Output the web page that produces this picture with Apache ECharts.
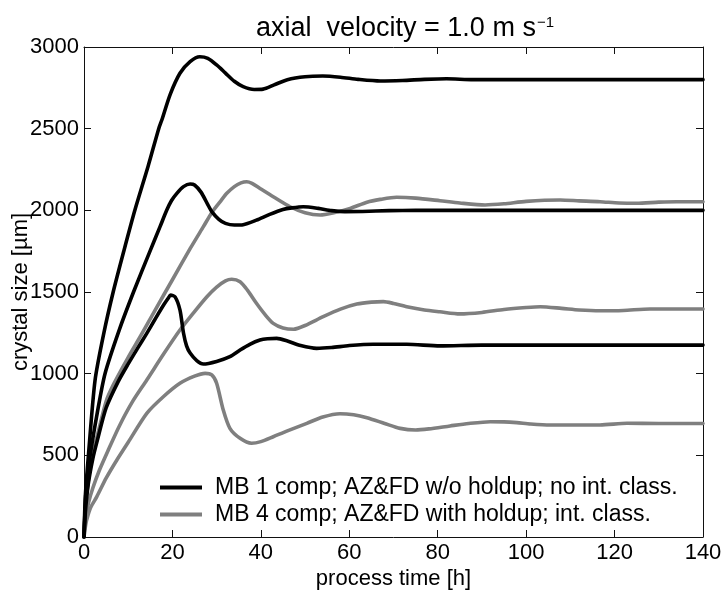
<!DOCTYPE html>
<html>
<head>
<meta charset="utf-8">
<script src="https://cdn.jsdelivr.net/npm/echarts@6/dist/echarts.min.js"></script>
<style>
  html, body { margin: 0; padding: 0; background: #fff; }
  #chart { width: 725px; height: 595px; }
</style>
</head>
<body>
<div id="chart"></div>
<script>
// Mean crystal size over process time, axial velocity 1.0 m/s
const xTicks = [0, 20, 40, 60, 80, 100, 120, 140];
const yTicks = [0, 500, 1000, 1500, 2000, 2500, 3000];

const legendNames = [
  'MB 1 comp; AZ&FD w/o holdup; no int. class.',
  'MB 4 comp; AZ&FD with holdup; int. class.'
];

// MB 1 comp runs (black)
const blackHighTime = [0, 0.3, 1, 2.5, 4.5, 6.6, 9, 11.5, 14.5, 16.9, 17.6, 19.5, 21.7, 24, 26.2, 28, 30, 32, 34, 36, 38.5, 40.5, 43, 46, 50, 54, 58, 62, 67, 72, 77, 82, 88, 100, 120, 140];
const blackHighSize = [0, 250, 500, 960, 1250, 1500, 1750, 2000, 2270, 2500, 2553, 2710, 2839, 2910, 2940, 2930, 2890, 2840, 2790, 2757, 2740, 2742, 2768, 2800, 2818, 2822, 2815, 2802, 2792, 2795, 2802, 2806, 2800, 2800, 2800, 2800];

const blackMidTime = [0, 0.5, 1.4, 3, 4.75, 8, 11.2, 15, 17.2, 18.7, 19.8, 21, 22.5, 24, 25, 26.5, 28, 28.9, 30.5, 32, 34, 36, 39, 42, 45, 47, 49.6, 53, 56, 59, 63, 69, 75, 140];
const blackMidSize = [0, 300, 500, 760, 1000, 1270, 1500, 1755, 1900, 2000, 2060, 2104, 2145, 2161, 2155, 2110, 2035, 1992, 1945, 1920, 1910, 1912, 1940, 1975, 2005, 2015, 2022, 2012, 1998, 1992, 1993, 1998, 2000, 2000];

const blackLowTime = [0, 0.3, 1, 2, 3, 5, 7.7, 10, 12, 14.2, 16, 18, 19, 19.6, 20.6, 21.7, 22.5, 23.2, 24, 25.5, 27, 30, 33, 35.3, 37.5, 39.8, 41.5, 43.6, 46, 49, 52.6, 56, 60, 65.4, 73, 80.5, 90, 140];
const blackLowSize = [0, 150, 330, 480, 590, 790, 950, 1060, 1150, 1247, 1330, 1420, 1460, 1481, 1470, 1390, 1249, 1170, 1126, 1080, 1059, 1075, 1104, 1145, 1180, 1206, 1214, 1216, 1200, 1172, 1155, 1160, 1172, 1180, 1180, 1170, 1175, 1175];

// MB 4 comp runs (gray)
const grayHighTime = [0, 0.3, 1, 2, 3, 5, 6.6, 10, 13, 16, 20, 24, 27, 29, 31, 32.3, 34, 35.5, 36.8, 38, 39.8, 43, 46.6, 50, 53.4, 56.5, 60.2, 64, 67, 70.7, 75, 80.5, 85, 90.7, 95, 100, 107.7, 112, 116.7, 121, 125, 130, 134, 140];
const grayHighSize = [0, 170, 350, 510, 620, 830, 930, 1100, 1240, 1385, 1575, 1765, 1900, 1990, 2060, 2104, 2145, 2168, 2175, 2165, 2134, 2080, 2022, 1985, 1971, 1985, 2012, 2050, 2067, 2080, 2075, 2059, 2045, 2033, 2040, 2055, 2063, 2058, 2053, 2045, 2043, 2050, 2053, 2053];

const grayMidTime = [0, 0.4, 1, 2, 3.5, 5.4, 8, 11, 14.2, 18, 21.7, 25, 27.8, 30, 32, 33.4, 35.3, 37, 39, 41, 42.8, 45, 47.4, 50, 54.1, 58, 61.7, 65, 67.7, 70, 73, 77, 80.5, 85, 90, 95, 100, 103.2, 108, 112, 116.7, 122, 128, 140];
const grayMidSize = [0, 120, 208, 300, 410, 527, 680, 830, 961, 1120, 1267, 1380, 1471, 1530, 1568, 1578, 1563, 1510, 1431, 1360, 1308, 1280, 1272, 1295, 1349, 1395, 1426, 1438, 1441, 1430, 1410, 1390, 1379, 1366, 1375, 1393, 1405, 1410, 1400, 1390, 1385, 1387, 1396, 1396];

const grayLowTime = [0, 0.3, 0.6, 1.5, 2.9, 5, 7.4, 10, 14.2, 18, 21.7, 25, 27.4, 28.9, 30, 31.5, 33, 35.3, 37.9, 40, 42.8, 46, 50.4, 54, 57.9, 61, 64, 68, 71.5, 75, 78, 82.8, 87, 91.9, 95, 97.9, 101, 105.4, 112, 116.7, 122.8, 130, 140];
const grayLowSize = [0, 60, 104, 180, 247, 360, 470, 580, 757, 860, 941, 985, 1002, 992, 941, 777, 665, 604, 574, 584, 614, 650, 696, 735, 755, 748, 730, 695, 665, 655, 662, 680, 695, 706, 705, 700, 692, 686, 686, 686, 696, 695, 695];

const FONT = "'Liberation Sans', Arial, Helvetica, sans-serif";
const BLACK = '#000000';
const GRAY = '#7f7f7f';
const FRAME = '#111111';

function pairs(t, v) {
  return t.map((x, i) => [x, v[i]]);
}

function curve(name, color, t, v) {
  return {
    name: name,
    type: 'line',
    data: pairs(t, v),
    symbol: 'none',
    smooth: 0.25,
    animation: false,
    lineStyle: { color: color, width: 3.6, join: 'round', cap: 'round' },
    itemStyle: { color: color },
    z: color === BLACK ? 3 : 2
  };
}

// frame ticks point into the plot on all four sides
function tickStyle() {
  return { show: true, inside: true, length: 7, interval: 0, lineStyle: { color: FRAME, width: 1 } };
}
function lineStyle() {
  return { show: true, onZero: false, lineStyle: { color: FRAME, width: 1 } };
}

const chart = echarts.init(document.getElementById('chart'), null, { renderer: 'canvas' });

chart.setOption({
  backgroundColor: '#ffffff',
  animation: false,
  title: {
    text: '{m|axial  velocity = 1.0 m s}{s|−1}',
    left: 400,
    top: 10,
    textAlign: 'center',
    textStyle: {
      fontFamily: FONT,
      fontWeight: 'normal',
      rich: {
        m: { fontSize: 27, fontFamily: FONT, fontWeight: 'normal', color: '#000' },
        s: { fontSize: 15, fontFamily: FONT, fontWeight: 'normal', color: '#000', verticalAlign: 'top', padding: [0, 0, 12, 1] }
      }
    }
  },
  legend: {
    data: legendNames,
    orient: 'vertical',
    left: 155,
    top: 471,
    icon: 'rect',
    itemWidth: 42,
    itemHeight: 4,
    itemGap: 4,
    textStyle: { fontFamily: FONT, fontSize: 23, color: '#000', padding: [0, 0, 0, 8] },
    selectedMode: false
  },
  grid: { left: 84, right: 22, top: 47, bottom: 58, containLabel: false, outerBoundsMode: 'none' },
  xAxis: [
    {
      type: 'value', min: 0, max: 140, interval: 20,
      name: 'process time [h]', nameLocation: 'middle', nameGap: 31, nameMoveOverlap: false,
      nameTextStyle: { fontFamily: FONT, fontSize: 22, color: '#000' },
      axisLine: lineStyle(), axisTick: tickStyle(),
      axisLabel: { fontFamily: FONT, fontSize: 22, color: '#000', margin: 5,
        formatter: v => (xTicks.includes(v) ? String(v) : '') },
      splitLine: { show: false }
    },
    {
      type: 'value', min: 0, max: 140, interval: 20, position: 'top',
      axisLine: lineStyle(), axisTick: tickStyle(),
      axisLabel: { show: false }, splitLine: { show: false }
    }
  ],
  yAxis: [
    {
      type: 'value', min: 0, max: 3000, interval: 500,
      name: 'crystal size [µm]', nameLocation: 'middle', nameGap: 52, nameMoveOverlap: false,
      nameTextStyle: { fontFamily: FONT, fontSize: 22, color: '#000' },
      axisLine: lineStyle(), axisTick: tickStyle(),
      axisLabel: { fontFamily: FONT, fontSize: 22, color: '#000', margin: 5,
        formatter: v => (yTicks.includes(v) ? String(v) : '') },
      splitLine: { show: false }
    },
    {
      type: 'value', min: 0, max: 3000, interval: 500, position: 'right',
      axisLine: lineStyle(), axisTick: tickStyle(),
      axisLabel: { show: false }, splitLine: { show: false }
    }
  ],
  series: [
    curve(legendNames[1], GRAY, grayHighTime, grayHighSize),
    curve(legendNames[1], GRAY, grayMidTime, grayMidSize),
    curve(legendNames[1], GRAY, grayLowTime, grayLowSize),
    curve(legendNames[0], BLACK, blackHighTime, blackHighSize),
    curve(legendNames[0], BLACK, blackMidTime, blackMidSize),
    curve(legendNames[0], BLACK, blackLowTime, blackLowSize)
  ]
});
</script>
</body>
</html>
